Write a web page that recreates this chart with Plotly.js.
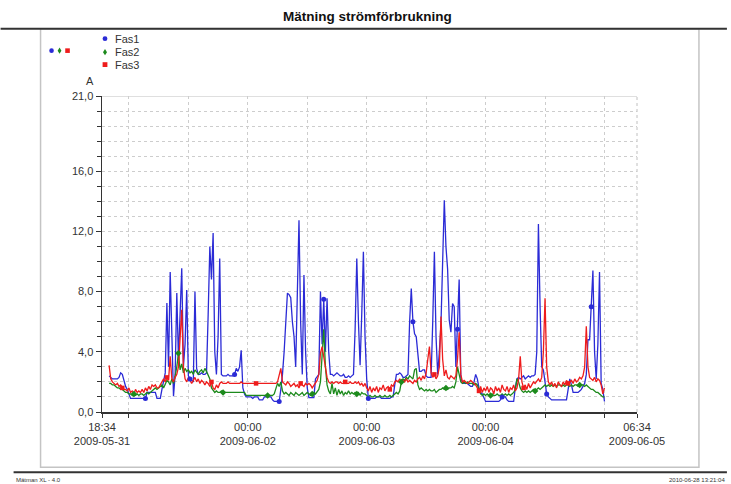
<!DOCTYPE html>
<html>
<head>
<meta charset="utf-8">
<script src="https://cdn.plot.ly/plotly-3.0.1.min.js"></script>
<style>html,body{margin:0;padding:0;background:#fff;}#chart{width:731px;height:484px;}</style>
</head>
<body>
<div id="chart"></div>
<script>
// ---- data ----
const seriesNames = ['Fas1', 'Fas2', 'Fas3'];
const firstSample = '2009-05-31 20:00';   // first logged sample
const sampleMinutes = 20;                  // logging interval
const axisStart = '2009-05-31 18:34';
const axisEnd = '2009-06-05 06:34';

const fas1 = [
2.4,2.3,2.2,2.2,2.2,2.2,2.3,2.6,2.5,2.0,
1.7,1.5,1.2,0.9,0.9,0.9,0.9,0.9,0.9,0.9,
0.9,0.9,0.9,1.3,1.3,1.3,1.3,1.3,1.3,0.9,
0.9,0.9,1.5,2.0,2.6,7.25,3.0,9.3,4.0,1.05,
2.5,7.9,3.5,6.0,9.55,3.0,4.5,8.1,2.4,2.2,
2.1,2.0,8.0,2.9,2.5,2.5,2.6,2.5,2.5,2.6,
6.5,11.0,8.8,11.9,4.0,2.5,5.0,10.2,2.5,2.4,
2.4,2.4,2.5,2.4,2.4,2.4,2.5,2.9,2.7,3.0,
4.1,1.6,1.2,1.0,1.0,1.0,1.0,0.9,1.0,1.0,
1.0,0.8,0.8,0.8,1.0,1.0,1.0,1.0,1.0,0.8,
0.7,0.7,0.7,0.7,1.5,2.5,4.0,6.0,7.9,7.8,
7.6,6.0,5.0,3.0,7.0,12.75,6.0,2.5,9.1,4.0,
1.6,0.95,0.95,0.95,0.95,2.2,2.4,2.5,8.0,4.5,
7.5,4.0,7.55,4.0,2.5,2.5,2.4,2.5,2.6,2.5,
2.4,2.4,2.5,2.3,2.3,2.4,2.3,2.4,2.5,5.5,
10.2,6.0,3.1,6.5,10.65,5.0,2.2,0.9,0.9,0.9,
0.9,0.9,1.0,1.0,1.0,0.9,0.9,0.9,0.9,0.9,
0.9,1.0,1.0,1.8,2.5,2.5,2.6,2.5,2.3,2.3,
2.4,2.5,6.0,8.2,6.0,5.2,5.0,4.0,2.7,2.7,
2.8,2.8,2.4,2.3,2.3,2.3,6.0,10.65,5.0,2.5,
4.0,5.9,10.0,14.07,11.0,9.5,6.1,5.3,7.2,7.0,
3.0,5.5,8.8,2.3,1.9,1.9,1.9,1.9,1.8,1.7,
1.7,2.0,2.5,2.2,1.6,1.3,1.2,1.0,0.7,0.7,
0.7,0.7,0.7,0.7,0.7,0.7,0.7,0.8,1.0,1.0,
1.0,0.8,0.7,0.7,0.7,0.7,1.6,2.2,2.3,2.2,
2.3,2.4,2.2,2.3,2.4,2.3,2.4,2.4,2.5,4.0,
12.5,7.0,3.0,2.8,2.0,1.2,1.0,0.9,0.8,0.8,
0.8,0.8,0.8,0.8,0.8,0.8,0.8,0.8,1.5,2.2,
1.8,1.3,1.3,1.3,1.3,1.4,1.5,1.7,1.9,2.5,
4.8,4.8,7.0,9.4,4.0,2.2,4.5,9.3,1.9,1.5,
0.7];

const fas2 = [
1.9,1.9,1.8,1.8,1.7,1.6,1.6,1.5,1.5,1.4,
1.3,1.3,1.2,1.2,1.1,1.2,1.1,1.2,1.1,1.2,
1.2,1.1,1.2,1.3,1.2,1.3,1.4,1.5,1.6,1.5,
1.6,1.7,1.8,1.6,1.9,2.1,2.0,1.8,2.2,1.9,
2.4,3.0,3.9,2.8,3.2,2.6,2.9,2.7,2.8,2.6,
2.7,2.5,2.8,2.6,2.5,2.7,2.8,2.6,2.9,2.7,
2.5,2.2,1.6,1.4,1.3,1.4,1.3,1.3,1.4,1.3,
1.3,1.3,1.3,1.3,1.3,1.3,1.3,1.3,1.3,1.3,
1.3,1.3,1.3,1.1,1.1,1.1,1.1,1.1,1.1,1.1,
1.1,1.1,1.1,1.1,1.1,1.1,1.1,1.1,1.1,1.1,
1.2,1.5,1.9,1.7,2.0,1.4,1.2,1.3,1.2,1.1,
1.3,1.2,1.1,1.3,1.2,1.1,1.2,1.3,1.1,1.2,
1.3,1.2,1.1,1.2,1.3,1.2,1.4,1.5,2.0,3.5,
5.5,3.0,1.8,1.4,1.2,1.9,1.2,1.6,1.1,1.5,
1.2,1.4,1.1,1.3,1.2,1.4,1.2,1.3,1.2,1.3,
1.2,1.3,1.1,1.3,1.2,1.2,1.1,1.0,1.1,1.0,
1.0,1.1,1.0,1.0,1.1,1.0,1.0,1.1,1.0,1.0,
1.1,1.0,1.1,1.2,1.3,1.2,1.4,2.0,2.2,2.1,
2.3,2.2,2.4,2.3,2.2,2.8,2.9,1.8,1.5,1.6,
1.5,1.4,1.5,1.4,1.5,1.4,1.4,1.5,1.3,1.4,
1.5,1.5,1.6,1.5,1.6,1.5,1.6,1.6,1.7,1.6,
2.0,3.0,2.5,2.0,1.9,2.0,1.9,2.0,1.9,1.9,
1.9,1.8,1.9,1.8,1.5,1.2,1.1,1.2,1.1,1.2,
1.1,1.1,1.2,1.1,1.1,1.2,1.1,1.1,1.2,1.1,
1.2,1.1,1.2,1.1,1.2,1.3,1.5,2.2,2.0,1.6,
1.4,1.3,1.4,1.3,1.4,1.3,1.4,1.5,1.4,1.5,
1.6,1.5,1.6,1.7,1.8,1.7,1.8,1.7,1.8,1.7,
1.8,1.7,1.8,1.8,1.7,1.8,1.7,1.8,1.8,1.7,
1.8,1.7,1.8,1.8,1.7,1.8,1.8,1.8,1.7,1.8,
1.7,1.6,1.5,1.5,1.4,1.3,1.3,1.2,1.1,1.0,
1.0];

const fas3 = [
3.1,2.2,2.0,1.9,1.8,1.9,1.7,1.8,1.6,1.5,
1.5,1.4,1.6,1.3,1.4,1.2,1.5,1.3,1.4,1.3,
1.5,1.3,1.6,1.4,1.7,1.5,1.8,1.7,1.8,1.6,
1.6,1.8,2.0,2.2,2.0,2.3,2.1,3.7,2.2,2.0,
2.3,2.5,3.0,5.0,6.8,3.0,2.2,2.0,2.3,2.1,
1.9,2.1,2.3,2.0,2.2,1.9,2.1,2.0,1.8,2.0,
1.9,1.7,2.0,1.6,1.5,1.8,1.6,1.9,2.0,1.9,
1.9,1.9,2.0,1.9,1.9,1.9,1.9,1.9,1.9,1.9,
2.0,1.9,1.9,1.9,1.9,1.9,1.9,1.9,1.9,1.9,
1.9,1.9,1.9,1.9,1.9,1.9,1.9,1.9,1.9,1.9,
1.9,1.9,2.0,2.4,2.9,2.0,1.9,1.8,2.0,1.9,
1.7,1.8,1.9,1.7,1.8,1.6,1.9,1.8,1.7,1.9,
1.8,1.9,1.8,1.6,1.8,1.9,2.1,2.5,3.9,4.35,
3.5,3.0,2.3,2.0,1.9,2.0,1.9,2.0,2.0,1.9,
2.0,1.9,1.9,2.0,1.9,1.9,2.0,1.9,1.9,2.0,
1.9,2.0,1.8,1.9,1.7,1.9,1.6,1.4,1.7,1.3,
1.6,1.4,1.7,1.3,1.6,1.5,1.8,1.4,1.6,1.7,
1.5,1.8,1.7,2.0,2.1,2.0,2.2,2.0,2.1,2.0,
2.2,2.0,2.1,2.0,1.9,2.1,2.0,2.2,2.3,2.1,
2.4,2.2,2.6,3.5,4.35,2.6,2.3,2.5,2.2,2.4,
3.0,6.35,3.5,2.4,2.8,2.3,2.2,2.4,2.3,2.2,
2.4,3.5,5.3,2.5,2.0,2.1,2.0,1.9,2.0,2.1,
2.0,1.9,1.8,1.6,1.4,1.7,1.3,1.6,1.4,1.7,
1.3,1.6,1.5,1.2,1.7,1.4,1.6,1.3,1.8,1.5,
1.4,1.7,1.3,1.6,1.5,1.8,1.4,1.6,2.2,3.7,
2.0,1.6,1.8,1.5,1.9,1.6,1.8,2.0,1.9,2.1,
2.2,2.0,2.3,4.0,7.55,3.0,2.0,1.8,2.0,1.7,
1.9,1.6,2.0,1.8,1.7,2.0,1.8,2.1,1.9,2.0,
2.1,1.9,2.2,2.0,2.1,2.3,2.2,2.4,3.0,5.7,
3.0,2.3,2.2,2.1,2.3,2.0,2.2,2.1,1.8,1.2,
1.6];

const yTickVals = [0, 4, 8, 12, 16, 21];
const yTickText = ['0,0', '4,0', '8,0', '12,0', '16,0', '21,0'];
const xTickVals = ['2009-05-31 18:34', '2009-06-01 00:00', '2009-06-01 12:00', '2009-06-02 00:00',
  '2009-06-02 12:00', '2009-06-03 00:00', '2009-06-03 12:00', '2009-06-04 00:00',
  '2009-06-04 12:00', '2009-06-05 00:00', '2009-06-05 06:34'];
const xTickText = ['18:34<br>2009-05-31', '', '', '00:00<br>2009-06-02', '', '00:00<br>2009-06-03',
  '', '00:00<br>2009-06-04', '', '', '06:34<br>2009-06-05'];

const titleText = 'Mätning strömförbrukning';
const yUnit = 'A';
const footerLeft = 'Mätman XL - 4.0';
const footerRight = '2010-06-28 13:21:04';

// ---- style ----
const colors = ['#2b2bd6', '#1c8a1c', '#ee1c1c'];
const symbols = ['circle', 'diamond', 'square'];
const markerEvery = 27;           // a marker on every 27th sample
const markerOffsets = [22, 15, 8];

// ---- build time stamps for the regular logging grid ----
function pad(n){ return (n < 10 ? '0' : '') + n; }
function stamp(base, addMin){
  const [d, t] = base.split(' ');
  const [Y, M, D] = d.split('-').map(Number);
  const [h, m] = t.split(':').map(Number);
  const dt = new Date(Date.UTC(Y, M - 1, D, h, m) + addMin * 60000);
  return dt.getUTCFullYear() + '-' + pad(dt.getUTCMonth() + 1) + '-' + pad(dt.getUTCDate()) +
    ' ' + pad(dt.getUTCHours()) + ':' + pad(dt.getUTCMinutes());
}
const times = fas1.map((_, i) => stamp(firstSample, i * sampleMinutes));

const allSeries = [fas1, fas2, fas3];
const traces = [];
allSeries.forEach((vals, k) => {
  traces.push({
    type: 'scatter', mode: 'lines', name: seriesNames[k],
    x: times, y: vals,
    line: {color: colors[k], width: 1.3},
    showlegend: false
  });
});
allSeries.forEach((vals, k) => {
  const idx = vals.map((_, i) => i).filter(i => i >= markerOffsets[k] && (i - markerOffsets[k]) % markerEvery === 0);
  traces.push({
    type: 'scatter', mode: 'markers', name: seriesNames[k] + ' markers',
    x: idx.map(i => times[i]), y: idx.map(i => vals[i]),
    marker: {color: colors[k], symbol: symbols[k], size: k === 2 ? 4.5 : 5},
    showlegend: false
  });
});

// ---- pixel helpers for decorations ----
const L = 101.5, R = 637, T = 95.5, B = 412.5;
const fx = px => (px - L) / (R - L);
const fy = py => (B - py) / (B - T);
const FONT = 'Liberation Sans, Arial, sans-serif';

const shapes = [
  {type: 'rect', xref: 'paper', yref: 'paper', x0: fx(40), x1: fx(699), y0: fy(468), y1: fy(28),
   line: {color: '#c4c4c4', width: 1.5}, layer: 'below'},
  {type: 'line', xref: 'paper', yref: 'paper', x0: fx(0), x1: fx(727), y0: fy(28), y1: fy(28),
   line: {color: '#333', width: 2}},
  {type: 'line', xref: 'paper', yref: 'paper', x0: fx(13), x1: fx(727), y0: fy(473), y1: fy(473),
   line: {color: '#333', width: 2}},
  {type: 'line', xref: 'paper', yref: 'y', x0: 0, x1: 1, y0: 21, y1: 21,
   line: {color: '#c0c0c0', width: 1}, layer: 'below'},
  {type: 'line', xref: 'paper', yref: 'paper', x0: 1, x1: 1, y0: 0, y1: 1,
   line: {color: '#c0c0c0', width: 1, dash: 'dot'}, layer: 'below'}
];

function markerShape(sym, color, cx, cy, r){
  const base = {xref: 'paper', yref: 'paper', xsizemode: 'pixel', ysizemode: 'pixel',
    xanchor: fx(cx), yanchor: fy(cy), fillcolor: color, line: {width: 0}};
  if (sym === 'circle') return Object.assign(base, {type: 'circle', x0: -r, x1: r, y0: -r, y1: r});
  if (sym === 'square') return Object.assign(base, {type: 'rect', x0: -r, x1: r, y0: -r, y1: r});
  return Object.assign(base, {type: 'path',
    path: `M 0 ${r + 0.8} L ${r - 0.4} 0 L 0 ${-r - 0.8} L ${-r + 0.4} 0 Z`});
}
// small colour key at the left and legend markers
[51, 59, 67].forEach((cx, k) => shapes.push(markerShape(symbols[k], colors[k], cx, 50, 2.3)));
[38, 51.5, 64].forEach((cy, k) => shapes.push(markerShape(symbols[k], colors[k], 104.5, cy, 2.4)));

const annotations = [
  {text: '<b>' + titleText + '</b>', xref: 'paper', yref: 'paper', x: fx(367), y: fy(16),
   xanchor: 'center', yanchor: 'middle', showarrow: false, font: {family: FONT, size: 13.5, color: '#111'}},
  {text: yUnit, xref: 'paper', yref: 'paper', x: fx(89.5), y: fy(80), xanchor: 'center', yanchor: 'middle',
   showarrow: false, font: {family: FONT, size: 11, color: '#333'}},
  {text: footerLeft, xref: 'paper', yref: 'paper', x: fx(13), y: fy(481), xanchor: 'left', yanchor: 'middle',
   showarrow: false, font: {family: FONT, size: 6, color: '#333'}},
  {text: footerRight, xref: 'paper', yref: 'paper', x: fx(727), y: fy(481), xanchor: 'right', yanchor: 'middle',
   showarrow: false, font: {family: FONT, size: 6, color: '#333'}}
];
[38, 51.5, 64].forEach((cy, k) => annotations.push({
  text: seriesNames[k], xref: 'paper', yref: 'paper', x: fx(113), y: fy(cy),
  xanchor: 'left', yanchor: 'middle', showarrow: false, font: {family: FONT, size: 11, color: '#333'}
}));

const gridColor = '#cdcdcd';
const layout = {
  width: 731, height: 484,
  margin: {l: L, r: 731 - R, t: T, b: 484 - B, pad: 0},
  paper_bgcolor: '#fff', plot_bgcolor: '#fff',
  showlegend: false,
  font: {family: FONT, size: 11, color: '#333'},
  xaxis: {
    type: 'date', range: [axisStart, axisEnd],
    tickmode: 'array', tickvals: xTickVals, ticktext: xTickText,
    ticks: 'outside', ticklen: 4, tickcolor: '#333', tickwidth: 1,
    showline: true, linecolor: '#333', linewidth: 1.5,
    showgrid: true, gridcolor: gridColor, griddash: '3px,3px', gridwidth: 1,
    zeroline: false, tickfont: {family: FONT, size: 11, color: '#333'}
  },
  yaxis: {
    range: [0, 21],
    tickmode: 'array', tickvals: yTickVals, ticktext: yTickText,
    ticks: 'outside', ticklen: 5, tickcolor: '#333', tickwidth: 1,
    showline: true, linecolor: '#333', linewidth: 1.5,
    showgrid: true, gridcolor: gridColor, griddash: '3px,3px', gridwidth: 1,
    zeroline: false, tickfont: {family: FONT, size: 11, color: '#333'},
    minor: {dtick: 1, tick0: 0, ticks: 'outside', ticklen: 4, tickcolor: '#333',
            showgrid: true, gridcolor: gridColor, griddash: '3px,3px', gridwidth: 1}
  },
  shapes: shapes,
  annotations: annotations
};

Plotly.newPlot('chart', traces, layout, {displayModeBar: false, staticPlot: true});
</script>
</body>
</html>
